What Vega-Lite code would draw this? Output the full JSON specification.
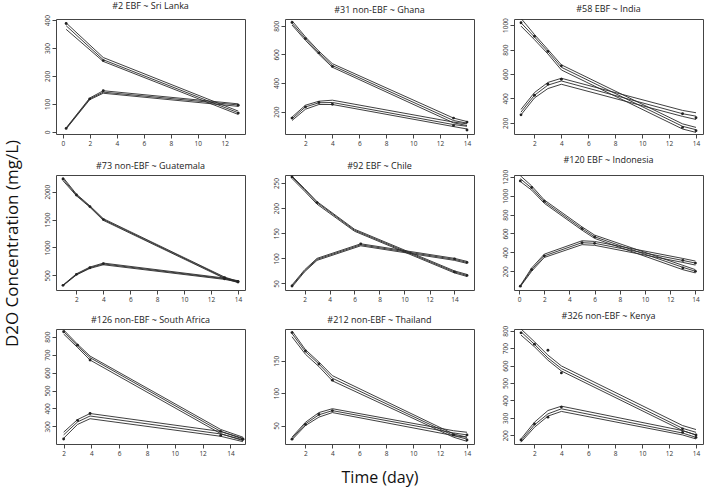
{
  "$schema": "https://vega.github.io/schema/vega-lite/v6.json",
  "padding": {"left": 3, "top": 1, "right": 0, "bottom": 4},
  "background": "white",
  "title": {"text": "D2O Concentration (mg/L)", "orient": "left", "anchor": "middle", "fontSize": 17, "offset": 22, "color": "#111", "fontWeight": "normal"},
  "config": {
    "font": "Open Sans",
    "view": {"stroke": "#444", "strokeWidth": 1},
    "axis": {"grid": false, "domain": false, "tickColor": "#444", "tickSize": 4, "labelFontSize": 6.5, "labelColor": "#333", "labelPadding": 2, "labelFlush": false, "labelOverlap": false, "titleFontWeight": "normal", "titleColor": "#111", "titleFontSize": 17, "format": "d"},
    "axisY": {"labelAngle": -90, "labelAlign": "center", "labelBaseline": "bottom"},
    "title": {"fontSize": 9, "fontWeight": "normal", "color": "#222", "offset": 0}
  },
  "data": {"values": [
    {"p":1,"c":"M","t":0.25,"lo":367,"fit":380,"hi":390,"obs":388},
    {"p":1,"c":"M","t":3,"lo":252,"fit":258,"hi":266,"obs":255},
    {"p":1,"c":"M","t":13,"lo":62,"fit":68,"hi":74,"obs":67},
    {"p":1,"c":"I","t":0.25,"lo":10,"fit":12,"hi":14,"obs":12},
    {"p":1,"c":"I","t":2,"lo":115,"fit":118,"hi":121,"obs":118},
    {"p":1,"c":"I","t":3,"lo":138,"fit":142,"hi":147,"obs":147},
    {"p":1,"c":"I","t":13,"lo":91,"fit":96,"hi":100,"obs":95},

    {"p":2,"c":"M","t":1,"lo":805,"fit":818,"hi":835,"obs":823},
    {"p":2,"c":"M","t":2,"lo":698,"fit":710,"hi":722,"obs":710},
    {"p":2,"c":"M","t":3,"lo":600,"fit":610,"hi":622,"obs":610},
    {"p":2,"c":"M","t":4,"lo":510,"fit":522,"hi":535,"obs":516},
    {"p":2,"c":"M","t":13,"lo":122,"fit":138,"hi":155,"obs":155},
    {"p":2,"c":"M","t":14,"lo":103,"fit":120,"hi":131,"obs":127},
    {"p":2,"c":"I","t":1,"lo":138,"fit":150,"hi":162,"obs":155},
    {"p":2,"c":"I","t":2,"lo":217,"fit":233,"hi":245,"obs":233},
    {"p":2,"c":"I","t":3,"lo":250,"fit":262,"hi":273,"obs":264},
    {"p":2,"c":"I","t":4,"lo":250,"fit":264,"hi":280,"obs":252},
    {"p":2,"c":"I","t":13,"lo":96,"fit":110,"hi":127,"obs":103},
    {"p":2,"c":"I","t":14,"lo":79,"fit":98,"hi":115,"obs":72},

    {"p":3,"c":"M","t":1,"lo":992,"fit":1019,"hi":1055,"obs":1019},
    {"p":3,"c":"M","t":2,"lo":881,"fit":903,"hi":923,"obs":909},
    {"p":3,"c":"M","t":3,"lo":764,"fit":783,"hi":800,"obs":785},
    {"p":3,"c":"M","t":4,"lo":633,"fit":655,"hi":675,"obs":667},
    {"p":3,"c":"M","t":13,"lo":150,"fit":172,"hi":192,"obs":163},
    {"p":3,"c":"M","t":14,"lo":122,"fit":144,"hi":163,"obs":136},
    {"p":3,"c":"I","t":1,"lo":266,"fit":288,"hi":310,"obs":266},
    {"p":3,"c":"I","t":2,"lo":404,"fit":426,"hi":448,"obs":426},
    {"p":3,"c":"I","t":3,"lo":481,"fit":509,"hi":531,"obs":517},
    {"p":3,"c":"I","t":4,"lo":516,"fit":543,"hi":565,"obs":557},
    {"p":3,"c":"I","t":13,"lo":253,"fit":275,"hi":302,"obs":275},
    {"p":3,"c":"I","t":14,"lo":228,"fit":255,"hi":283,"obs":242},

    {"p":4,"c":"M","t":1,"lo":2196,"fit":2226,"hi":2256,"obs":2226},
    {"p":4,"c":"M","t":2,"lo":1925,"fit":1940,"hi":1955,"obs":1940},
    {"p":4,"c":"M","t":3,"lo":1720,"fit":1732,"hi":1745,"obs":1732},
    {"p":4,"c":"M","t":4,"lo":1485,"fit":1500,"hi":1515,"obs":1500},
    {"p":4,"c":"M","t":13,"lo":445,"fit":458,"hi":470,"obs":458},
    {"p":4,"c":"M","t":14,"lo":370,"fit":381,"hi":392,"obs":381},
    {"p":4,"c":"I","t":1,"lo":315,"fit":321,"hi":327,"obs":321},
    {"p":4,"c":"I","t":2,"lo":508,"fit":518,"hi":528,"obs":518},
    {"p":4,"c":"I","t":3,"lo":625,"fit":637,"hi":649,"obs":637},
    {"p":4,"c":"I","t":4,"lo":690,"fit":705,"hi":720,"obs":708},
    {"p":4,"c":"I","t":13,"lo":428,"fit":440,"hi":452,"obs":440},
    {"p":4,"c":"I","t":14,"lo":382,"fit":393,"hi":404,"obs":393},

    {"p":5,"c":"M","t":1,"lo":259,"fit":262,"hi":264,"obs":262},
    {"p":5,"c":"M","t":2,"lo":234,"fit":237,"hi":239,"obs":null},
    {"p":5,"c":"M","t":3,"lo":208,"fit":211,"hi":213,"obs":211},
    {"p":5,"c":"M","t":6,"lo":154,"fit":156,"hi":158,"obs":null},
    {"p":5,"c":"M","t":14,"lo":71,"fit":73,"hi":75,"obs":73},
    {"p":5,"c":"M","t":15,"lo":64,"fit":66,"hi":68,"obs":66},
    {"p":5,"c":"I","t":1,"lo":43,"fit":45,"hi":47,"obs":45},
    {"p":5,"c":"I","t":2,"lo":73,"fit":75,"hi":77,"obs":null},
    {"p":5,"c":"I","t":3,"lo":96,"fit":98,"hi":100,"obs":null},
    {"p":5,"c":"I","t":6.5,"lo":125,"fit":127,"hi":129,"obs":129},
    {"p":5,"c":"I","t":14,"lo":96,"fit":98,"hi":100,"obs":99},
    {"p":5,"c":"I","t":15,"lo":90,"fit":92,"hi":94,"obs":92},

    {"p":6,"c":"M","t":0.1,"lo":1150,"fit":1180,"hi":1212,"obs":1156},
    {"p":6,"c":"M","t":1,"lo":1059,"fit":1080,"hi":1104,"obs":1087},
    {"p":6,"c":"M","t":2,"lo":920,"fit":937,"hi":955,"obs":941},
    {"p":6,"c":"M","t":5,"lo":635,"fit":652,"hi":670,"obs":652},
    {"p":6,"c":"M","t":6,"lo":548,"fit":565,"hi":583,"obs":565},
    {"p":6,"c":"M","t":13,"lo":217,"fit":242,"hi":263,"obs":235},
    {"p":6,"c":"M","t":14,"lo":183,"fit":200,"hi":217,"obs":200},
    {"p":6,"c":"I","t":0.1,"lo":38,"fit":43,"hi":48,"obs":43},
    {"p":6,"c":"I","t":1,"lo":200,"fit":217,"hi":235,"obs":217},
    {"p":6,"c":"I","t":2,"lo":346,"fit":363,"hi":381,"obs":363},
    {"p":6,"c":"I","t":5,"lo":482,"fit":503,"hi":523,"obs":503},
    {"p":6,"c":"I","t":6,"lo":475,"fit":496,"hi":516,"obs":496},
    {"p":6,"c":"I","t":13,"lo":294,"fit":315,"hi":336,"obs":315},
    {"p":6,"c":"I","t":14,"lo":266,"fit":287,"hi":308,"obs":287},

    {"p":7,"c":"M","t":2,"lo":815,"fit":828,"hi":838,"obs":828},
    {"p":7,"c":"M","t":3,"lo":740,"fit":749,"hi":758,"obs":753},
    {"p":7,"c":"M","t":3.9,"lo":670,"fit":683,"hi":692,"obs":670},
    {"p":7,"c":"M","t":13.3,"lo":260,"fit":272,"hi":283,"obs":272},
    {"p":7,"c":"M","t":14.9,"lo":221,"fit":230,"hi":240,"obs":230},
    {"p":7,"c":"I","t":2,"lo":234,"fit":253,"hi":268,"obs":230},
    {"p":7,"c":"I","t":3,"lo":311,"fit":325,"hi":338,"obs":334},
    {"p":7,"c":"I","t":3.9,"lo":343,"fit":358,"hi":372,"obs":372},
    {"p":7,"c":"I","t":13.3,"lo":245,"fit":258,"hi":272,"obs":250},
    {"p":7,"c":"I","t":14.9,"lo":215,"fit":225,"hi":234,"obs":228},

    {"p":8,"c":"M","t":1,"lo":187,"fit":192,"hi":196,"obs":193.5},
    {"p":8,"c":"M","t":2,"lo":160,"fit":164,"hi":167,"obs":165},
    {"p":8,"c":"M","t":3,"lo":141,"fit":145,"hi":148,"obs":145},
    {"p":8,"c":"M","t":4,"lo":119,"fit":123,"hi":127,"obs":120},
    {"p":8,"c":"M","t":13,"lo":32,"fit":34.5,"hi":37,"obs":35.5},
    {"p":8,"c":"M","t":14,"lo":25.6,"fit":29,"hi":32,"obs":27.7},
    {"p":8,"c":"I","t":1,"lo":28,"fit":30,"hi":32,"obs":29},
    {"p":8,"c":"I","t":2,"lo":50,"fit":52.6,"hi":55,"obs":51.6},
    {"p":8,"c":"I","t":3,"lo":63,"fit":66.6,"hi":70,"obs":67},
    {"p":8,"c":"I","t":4,"lo":70,"fit":73,"hi":76,"obs":73},
    {"p":8,"c":"I","t":13,"lo":34.5,"fit":38.6,"hi":42,"obs":35.5},
    {"p":8,"c":"I","t":14,"lo":32,"fit":35.5,"hi":39.6,"obs":35.5},

    {"p":9,"c":"M","t":1,"lo":775,"fit":794,"hi":810,"obs":788},
    {"p":9,"c":"M","t":2,"lo":708,"fit":722,"hi":737,"obs":723},
    {"p":9,"c":"M","t":3,"lo":631,"fit":644,"hi":660,"obs":688},
    {"p":9,"c":"M","t":4,"lo":569,"fit":583,"hi":598,"obs":558},
    {"p":9,"c":"M","t":13,"lo":227,"fit":240,"hi":256,"obs":237},
    {"p":9,"c":"M","t":14,"lo":202,"fit":217,"hi":233,"obs":202},
    {"p":9,"c":"I","t":1,"lo":160,"fit":169,"hi":179,"obs":173},
    {"p":9,"c":"I","t":2,"lo":246,"fit":260,"hi":275,"obs":265},
    {"p":9,"c":"I","t":3,"lo":310,"fit":323,"hi":342,"obs":304},
    {"p":9,"c":"I","t":4,"lo":337,"fit":352,"hi":367,"obs":362},
    {"p":9,"c":"I","t":13,"lo":202,"fit":213,"hi":227,"obs":217},
    {"p":9,"c":"I","t":14,"lo":179,"fit":188,"hi":202,"obs":188}
  ]},
  "columns": 3,
  "align": "each",
  "spacing": {"row": 8, "column": 26},
  "concat": [
    {
      "title": "#2 EBF ~ Sri Lanka", "width": 189, "height": 115,
      "transform": [{"filter": "datum.p == 1"}, {"fold": ["lo", "fit", "hi", "obs"], "as": ["band", "val"]}],
      "encoding": {
        "x": {"field": "t", "type": "quantitative", "scale": {"domain": [-0.5, 13.5], "nice": false, "zero": false}, "axis": {"values": [0, 2, 4, 6, 8, 10, 12], "title": null}},
        "y": {"field": "val", "type": "quantitative", "scale": {"domain": [-8, 404], "nice": false, "zero": false}, "axis": {"values": [0, 100, 200, 300, 400], "title": null}}
      },
      "layer": [
        {"transform": [{"filter": "datum.band != 'obs'"}], "mark": {"type": "line", "clip": true, "color": "#2a2a2a", "strokeWidth": 0.9}, "encoding": {"detail": [{"field": "c"}, {"field": "band"}]}},
        {"transform": [{"filter": "datum.band == 'obs' && isValid(datum.val)"}], "mark": {"type": "point", "shape": "circle", "filled": true, "size": 8, "color": "#222", "opacity": 1, "clip": true}}
      ]
    },
    {
      "title": "#31 non-EBF ~ Ghana", "width": 189, "height": 115,
      "transform": [{"filter": "datum.p == 2"}, {"fold": ["lo", "fit", "hi", "obs"], "as": ["band", "val"]}],
      "encoding": {
        "x": {"field": "t", "type": "quantitative", "scale": {"domain": [0.48, 14.52], "nice": false, "zero": false}, "axis": {"values": [2, 4, 6, 8, 10, 12, 14], "title": null}},
        "y": {"field": "val", "type": "quantitative", "scale": {"domain": [44, 847], "nice": false, "zero": false}, "axis": {"values": [200, 400, 600, 800], "title": null}}
      },
      "layer": [
        {"transform": [{"filter": "datum.band != 'obs'"}], "mark": {"type": "line", "clip": true, "color": "#2a2a2a", "strokeWidth": 0.9}, "encoding": {"detail": [{"field": "c"}, {"field": "band"}]}},
        {"transform": [{"filter": "datum.band == 'obs' && isValid(datum.val)"}], "mark": {"type": "point", "shape": "circle", "filled": true, "size": 8, "color": "#222", "opacity": 1, "clip": true}}
      ]
    },
    {
      "title": "#58 EBF ~ India", "width": 189, "height": 115,
      "transform": [{"filter": "datum.p == 3"}, {"fold": ["lo", "fit", "hi", "obs"], "as": ["band", "val"]}],
      "encoding": {
        "x": {"field": "t", "type": "quantitative", "scale": {"domain": [0.48, 14.52], "nice": false, "zero": false}, "axis": {"values": [2, 4, 6, 8, 10, 12, 14], "title": null}},
        "y": {"field": "val", "type": "quantitative", "scale": {"domain": [109, 1050], "nice": false, "zero": false}, "axis": {"values": [200, 400, 600, 800, 1000], "title": null}}
      },
      "layer": [
        {"transform": [{"filter": "datum.band != 'obs'"}], "mark": {"type": "line", "clip": true, "color": "#2a2a2a", "strokeWidth": 0.9}, "encoding": {"detail": [{"field": "c"}, {"field": "band"}]}},
        {"transform": [{"filter": "datum.band == 'obs' && isValid(datum.val)"}], "mark": {"type": "point", "shape": "circle", "filled": true, "size": 8, "color": "#222", "opacity": 1, "clip": true}}
      ]
    },
    {
      "title": "#73 non-EBF ~ Guatemala", "width": 189, "height": 115,
      "transform": [{"filter": "datum.p == 4"}, {"fold": ["lo", "fit", "hi", "obs"], "as": ["band", "val"]}],
      "encoding": {
        "x": {"field": "t", "type": "quantitative", "scale": {"domain": [0.48, 14.52], "nice": false, "zero": false}, "axis": {"values": [2, 4, 6, 8, 10, 12, 14], "title": null}},
        "y": {"field": "val", "type": "quantitative", "scale": {"domain": [238, 2298], "nice": false, "zero": false}, "axis": {"values": [500, 1000, 1500, 2000], "title": null}}
      },
      "layer": [
        {"transform": [{"filter": "datum.band != 'obs'"}], "mark": {"type": "line", "clip": true, "color": "#2a2a2a", "strokeWidth": 0.9}, "encoding": {"detail": [{"field": "c"}, {"field": "band"}]}},
        {"transform": [{"filter": "datum.band == 'obs' && isValid(datum.val)"}], "mark": {"type": "point", "shape": "circle", "filled": true, "size": 8, "color": "#222", "opacity": 1, "clip": true}}
      ]
    },
    {
      "title": "#92 EBF ~ Chile", "width": 189, "height": 115,
      "transform": [{"filter": "datum.p == 5"}, {"fold": ["lo", "fit", "hi", "obs"], "as": ["band", "val"]}],
      "encoding": {
        "x": {"field": "t", "type": "quantitative", "scale": {"domain": [0.44, 15.56], "nice": false, "zero": false}, "axis": {"values": [2, 4, 6, 8, 10, 12, 14], "title": null}},
        "y": {"field": "val", "type": "quantitative", "scale": {"domain": [37, 266], "nice": false, "zero": false}, "axis": {"values": [50, 100, 150, 200, 250], "title": null}}
      },
      "layer": [
        {"transform": [{"filter": "datum.band != 'obs'"}], "mark": {"type": "line", "clip": true, "color": "#2a2a2a", "strokeWidth": 0.9}, "encoding": {"detail": [{"field": "c"}, {"field": "band"}]}},
        {"transform": [{"filter": "datum.band == 'obs' && isValid(datum.val)"}], "mark": {"type": "point", "shape": "circle", "filled": true, "size": 8, "color": "#222", "opacity": 1, "clip": true}}
      ]
    },
    {
      "title": "#120 EBF ~ Indonesia", "width": 189, "height": 115,
      "transform": [{"filter": "datum.p == 6"}, {"fold": ["lo", "fit", "hi", "obs"], "as": ["band", "val"]}],
      "encoding": {
        "x": {"field": "t", "type": "quantitative", "scale": {"domain": [-0.4, 14.6], "nice": false, "zero": false}, "axis": {"values": [0, 2, 4, 6, 8, 10, 12, 14], "title": null}},
        "y": {"field": "val", "type": "quantitative", "scale": {"domain": [2, 1219], "nice": false, "zero": false}, "axis": {"values": [200, 400, 600, 800, 1000, 1200], "title": null}}
      },
      "layer": [
        {"transform": [{"filter": "datum.band != 'obs'"}], "mark": {"type": "line", "clip": true, "color": "#2a2a2a", "strokeWidth": 0.9}, "encoding": {"detail": [{"field": "c"}, {"field": "band"}]}},
        {"transform": [{"filter": "datum.band == 'obs' && isValid(datum.val)"}], "mark": {"type": "point", "shape": "circle", "filled": true, "size": 8, "color": "#222", "opacity": 1, "clip": true}}
      ]
    },
    {
      "title": "#126 non-EBF ~ South Africa", "width": 189, "height": 115,
      "transform": [{"filter": "datum.p == 7"}, {"fold": ["lo", "fit", "hi", "obs"], "as": ["band", "val"]}],
      "encoding": {
        "x": {"field": "t", "type": "quantitative", "scale": {"domain": [1.45, 15.05], "nice": false, "zero": false}, "axis": {"values": [2, 4, 6, 8, 10, 12, 14], "title": null}},
        "y": {"field": "val", "type": "quantitative", "scale": {"domain": [202, 843], "nice": false, "zero": false}, "axis": {"values": [300, 400, 500, 600, 700, 800], "title": null}}
      },
      "layer": [
        {"transform": [{"filter": "datum.band != 'obs'"}], "mark": {"type": "line", "clip": true, "color": "#2a2a2a", "strokeWidth": 0.9}, "encoding": {"detail": [{"field": "c"}, {"field": "band"}]}},
        {"transform": [{"filter": "datum.band == 'obs' && isValid(datum.val)"}], "mark": {"type": "point", "shape": "circle", "filled": true, "size": 8, "color": "#222", "opacity": 1, "clip": true}}
      ]
    },
    {
      "title": "#212 non-EBF ~ Thailand", "width": 189, "height": 115,
      "transform": [{"filter": "datum.p == 8"}, {"fold": ["lo", "fit", "hi", "obs"], "as": ["band", "val"]}],
      "encoding": {
        "x": {"field": "t", "type": "quantitative", "scale": {"domain": [0.48, 14.52], "nice": false, "zero": false}, "axis": {"values": [2, 4, 6, 8, 10, 12, 14], "title": "Time (day)", "titlePadding": 13, "titleFontSize": 16}},
        "y": {"field": "val", "type": "quantitative", "scale": {"domain": [21.5, 199], "nice": false, "zero": false}, "axis": {"values": [50, 100, 150], "title": null}}
      },
      "layer": [
        {"transform": [{"filter": "datum.band != 'obs'"}], "mark": {"type": "line", "clip": true, "color": "#2a2a2a", "strokeWidth": 0.9}, "encoding": {"detail": [{"field": "c"}, {"field": "band"}]}},
        {"transform": [{"filter": "datum.band == 'obs' && isValid(datum.val)"}], "mark": {"type": "point", "shape": "circle", "filled": true, "size": 8, "color": "#222", "opacity": 1, "clip": true}}
      ]
    },
    {
      "title": "#326 non-EBF ~ Kenya", "width": 189, "height": 115,
      "transform": [{"filter": "datum.p == 9"}, {"fold": ["lo", "fit", "hi", "obs"], "as": ["band", "val"]}],
      "encoding": {
        "x": {"field": "t", "type": "quantitative", "scale": {"domain": [0.48, 14.52], "nice": false, "zero": false}, "axis": {"values": [2, 4, 6, 8, 10, 12, 14], "title": null}},
        "y": {"field": "val", "type": "quantitative", "scale": {"domain": [150, 810], "nice": false, "zero": false}, "axis": {"values": [200, 300, 400, 500, 600, 700, 800], "title": null}}
      },
      "layer": [
        {"transform": [{"filter": "datum.band != 'obs'"}], "mark": {"type": "line", "clip": true, "color": "#2a2a2a", "strokeWidth": 0.9}, "encoding": {"detail": [{"field": "c"}, {"field": "band"}]}},
        {"transform": [{"filter": "datum.band == 'obs' && isValid(datum.val)"}], "mark": {"type": "point", "shape": "circle", "filled": true, "size": 8, "color": "#222", "opacity": 1, "clip": true}}
      ]
    }
  ]
}
